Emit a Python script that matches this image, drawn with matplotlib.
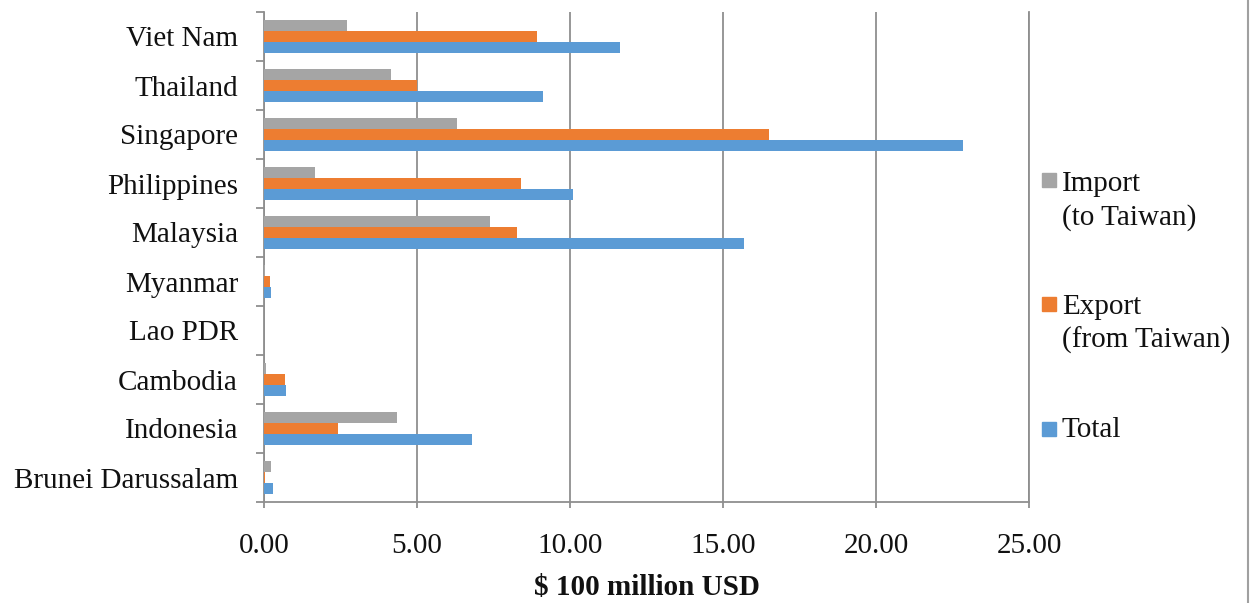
import numpy as np
import matplotlib
matplotlib.use("Agg")
import matplotlib.pyplot as plt
from matplotlib.patches import Rectangle
from matplotlib.lines import Line2D
from matplotlib.ticker import FormatStrFormatter, MultipleLocator

# Trade with ASEAN members, in units of $100 million USD (bottom to top)
countries = ["Brunei Darussalam", "Indonesia", "Cambodia", "Lao PDR", "Myanmar",
             "Malaysia", "Philippines", "Singapore", "Thailand", "Viet Nam"]
imports = [0.24, 4.36, 0.05, 0.00, 0.03, 7.38, 1.68, 6.32, 4.14, 2.70]
exports = [0.03, 2.43, 0.67, 0.01, 0.20, 8.27, 8.39, 16.50, 4.99, 8.91]
totals = [0.28, 6.81, 0.72, 0.01, 0.24, 15.69, 10.09, 22.85, 9.13, 11.63]

c_import = "#A5A5A5"
c_export = "#ED7D31"
c_total = "#5B9BD5"

plt.rcParams["font.family"] = ["Liberation Serif", "DejaVu Serif"]
fs = 21
txt_c = "#111111"

W, H = 1251, 603
fig = plt.figure(figsize=(W / 100, H / 100), dpi=100)
ax = fig.add_axes([264 / W, 1 - 502 / H, (1029 - 264) / W, (502 - 12) / H])

y = np.arange(len(countries))
h = 0.225
ax.barh(y + h, imports, height=h, color=c_import, zorder=3)
ax.barh(y, exports, height=h, color=c_export, zorder=3)
ax.barh(y - h, totals, height=h, color=c_total, zorder=3)

ax.set_xlim(0, 25)
ax.set_ylim(-0.5, len(countries) - 0.5)
ax.xaxis.set_major_locator(MultipleLocator(5))
ax.xaxis.set_major_formatter(FormatStrFormatter("%.2f"))
ax.set_yticks(y)
ax.set_yticklabels(countries)
ax.set_yticks(np.arange(-0.5, len(countries)), minor=True)

grid_c = "#8f8f8f"
ax.xaxis.grid(True, color=grid_c, linewidth=1.3, zorder=0)
# keep the last gridline at full width on the plot edge
ax.axvline(25, color=grid_c, linewidth=1.3, clip_on=False, zorder=0)
for side in ["top", "right"]:
    ax.spines[side].set_visible(False)
for side in ["left", "bottom"]:
    ax.spines[side].set_color(grid_c)
    ax.spines[side].set_linewidth(1.3)

ax.tick_params(axis="y", which="major", length=0, pad=26 * 0.72, labelsize=fs, labelcolor=txt_c)
ax.tick_params(axis="y", which="minor", length=8 * 0.72, width=1.3, color=grid_c)
ax.tick_params(axis="x", length=6 * 0.72, width=1.3, color=grid_c, pad=18, labelsize=fs, labelcolor=txt_c)

ax.set_xlabel(r"\$ 100 million USD", fontsize=fs, fontweight="bold", labelpad=11, color=txt_c)

# legend drawn by hand so the swatch lines up with the first text line
legend_items = [("Import\n(to Taiwan)", c_import, 180, 191),
                ("Export\n(from Taiwan)", c_export, 304, 314),
                ("Total", c_total, 429, 437)]
for label, color, sq_y, base_y in legend_items:
    sq = 14
    fig.patches.append(Rectangle((1042 / W, 1 - (sq_y + sq / 2) / H), sq / W, sq / H,
                                 transform=fig.transFigure, color=color))
    first, *rest = label.split("\n")
    fig.text(1062 / W, 1 - base_y / H, first, fontsize=fs, va="baseline", ha="left", color=txt_c)
    if rest:
        fig.text(1062 / W, 1 - (base_y + 34) / H, rest[0], fontsize=fs, va="baseline", ha="left",
                 color=txt_c)

fig.lines.append(Line2D([1247.5 / W, 1247.5 / W], [0, 1], transform=fig.transFigure,
                        color="#a0a0a0", linewidth=1.5))

fig.savefig("out.png", dpi=100, facecolor="white")
